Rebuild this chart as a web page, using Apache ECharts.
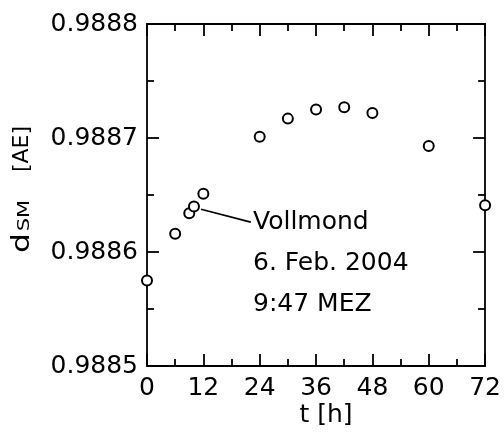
<!DOCTYPE html>
<html>
<head>
<meta charset="utf-8">
<script src="https://cdn.jsdelivr.net/npm/echarts@6/dist/echarts.min.js"></script>
<style>
html,body{margin:0;padding:0;background:#fff;}
#c{width:504px;height:434px;}
</style>
</head>
<body>
<div id="c"></div>
<script>
// Data
const hours = [0, 6, 9, 10, 12, 24, 30, 36, 42, 48, 60, 72];
const distance = [0.988575, 0.988616, 0.988634, 0.988640, 0.988651, 0.988701, 0.988717, 0.988725, 0.988727, 0.988722, 0.988693, 0.988641];
const xTicks = [0, 12, 24, 36, 48, 60, 72];
const yTicks = [0.9885, 0.9886, 0.9887, 0.9888];
const annotationLine = [[11.5, 0.9886375], [22.1, 0.9886262]];
const annotationText = ['Vollmond', '6. Feb. 2004', '9:47 MEZ'];
const xTitle = 't [h]';
const yTitleParts = ['d', 'SM', '[AE]'];

const FONT = 'DejaVu Sans';
const chart = echarts.init(document.getElementById('c'), null, {renderer: 'canvas'});

function axisLine() { return {show: true, onZero: false, lineStyle: {color: '#000', width: 1.8}}; }
function tick() { return {show: true, inside: true, length: 12, lineStyle: {color: '#000', width: 1.8}}; }
function minor() { return {show: true, splitNumber: 2, length: 7, lineStyle: {color: '#000', width: 1.8}}; }

function xAx(pos, labels) {
  return {
    type: 'value', position: pos, min: xTicks[0], max: xTicks[xTicks.length - 1], interval: 12,
    axisLine: axisLine(), axisTick: tick(), minorTick: minor(),
    splitLine: {show: false}, minorSplitLine: {show: false},
    axisLabel: labels ? {show: true, fontFamily: FONT, fontSize: 25, color: '#000', margin: 10} : {show: false}
  };
}
function yAx(pos, labels) {
  return {
    type: 'value', position: pos, min: yTicks[0], max: yTicks[yTicks.length - 1], interval: 0.0001,
    axisLine: axisLine(), axisTick: tick(), minorTick: minor(),
    splitLine: {show: false}, minorSplitLine: {show: false},
    axisLabel: labels ? {show: true, fontFamily: FONT, fontSize: 25, color: '#000', margin: 9,
      formatter: v => v.toFixed(4)} : {show: false}
  };
}

const option = {
  backgroundColor: '#fff',
  animation: false,
  grid: {left: 147, right: 15, top: 24, bottom: 68, containLabel: false},
  xAxis: [xAx('bottom', true), xAx('top', false)],
  yAxis: [yAx('left', true), yAx('right', false)],
  series: [{
    type: 'scatter',
    xAxisIndex: 0, yAxisIndex: 0,
    data: hours.map((h, i) => [h, distance[i]]),
    symbol: 'circle', symbolSize: 10,
    clip: false,
    itemStyle: {color: '#fff', borderColor: '#000', borderWidth: 2, opacity: 1},
    emphasis: {disabled: true},
    markLine: {
      silent: true, symbol: 'none', animation: false,
      label: {show: false},
      lineStyle: {color: '#000', width: 1.8, type: 'solid'},
      data: [[{coord: annotationLine[0]}, {coord: annotationLine[1]}]]
    },
    z: 5
  }],
  graphic: [
    ...annotationText.map((t, i) => ({
      type: 'text', left: 253, top: 210 + i * 41,
      style: {text: t, fontFamily: FONT, fontSize: 25, fill: '#000'}
    })),
    {
      type: 'text', x: 326, y: 415,
      style: {text: xTitle, fontFamily: FONT, fontSize: 25, fill: '#000', align: 'center', verticalAlign: 'middle'}
    },
    {
      type: 'text', x: 22, y: 243, rotation: Math.PI / 2, scaleX: 1.25,
      style: {text: yTitleParts[0], fontFamily: FONT, fontSize: 25, fill: '#000', align: 'center', verticalAlign: 'middle'}
    },
    {
      type: 'text', x: 24.8, y: 215.5, rotation: Math.PI / 2, scaleX: 1.4,
      style: {text: yTitleParts[1], fontFamily: FONT, fontSize: 15, fill: '#000', align: 'center', verticalAlign: 'middle'}
    },
    {
      type: 'text', x: 22.3, y: 149, rotation: Math.PI / 2,
      style: {text: yTitleParts[2], fontFamily: FONT, fontSize: 22, fill: '#000', align: 'center', verticalAlign: 'middle'}
    }
  ]
};
chart.setOption(option);
</script>
</body>
</html>
